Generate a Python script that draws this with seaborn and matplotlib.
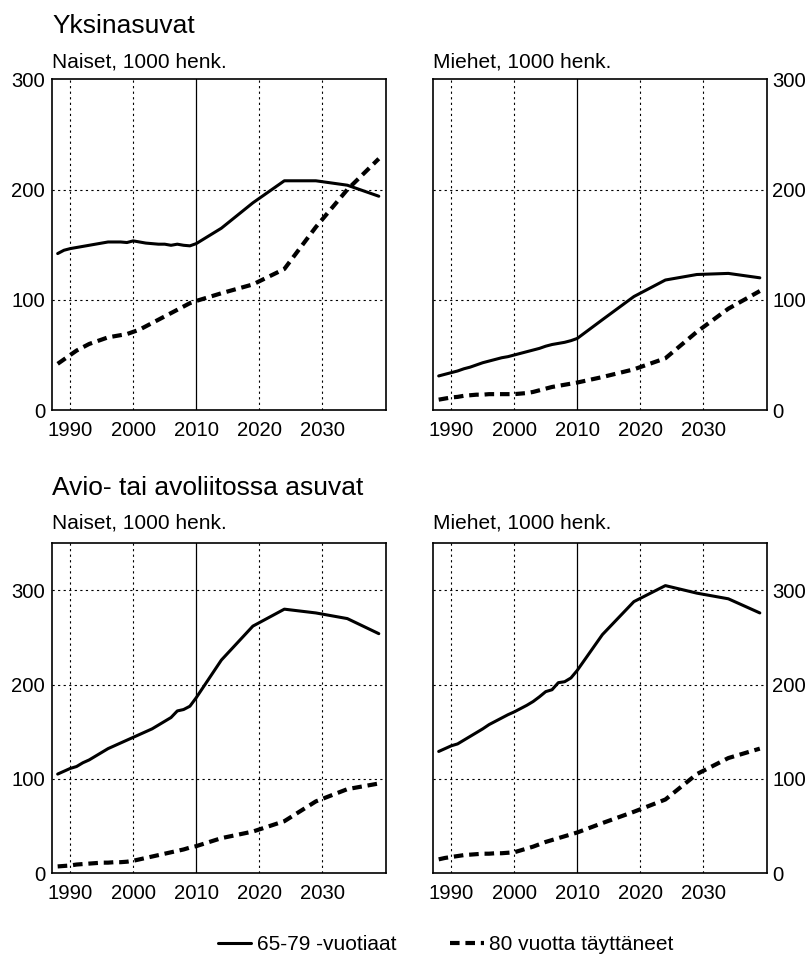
import numpy as np
import pandas as pd
import seaborn as sns
import matplotlib.pyplot as plt
from matplotlib.lines import Line2D
from matplotlib.ticker import MultipleLocator

# vuodet: 1988-2010 vuosittain, sitten ennusteet
vuodet = list(range(1988, 2011)) + [2014, 2019, 2024, 2029, 2034, 2039]

yksin_naiset_65_79 = [142, 145, 146.5, 147.5, 148.5, 149.5, 150.5, 151.5, 152.5, 152.5, 152.5, 152,
                      153.5, 152.5, 151.5, 151, 150.5, 150.5, 149.5, 150.5, 149.5, 149, 151,
                      165, 188, 208, 208, 204, 194]
yksin_naiset_80 = [42, 46, 50, 54, 57, 60, 62, 64, 66, 67, 68, 69,
                   71, 73, 76, 79, 82, 85, 88, 91, 94, 97, 99,
                   106, 114, 128, 166, 200, 228]
yksin_miehet_65_79 = [31, 32.5, 34, 35.5, 37.5, 39, 41, 43, 44.5, 46, 47.5, 48.5,
                      50, 51.5, 53, 54.5, 56, 58, 59.5, 60.5, 61.5, 63, 65,
                      82, 103, 118, 123, 124, 120]
yksin_miehet_80 = [9.5, 10.5, 11.5, 12, 13, 13.5, 14, 14, 14.5, 14.5, 14.5, 14.5,
                   14.5, 15, 15.5, 16.5, 18, 19.5, 21, 22, 23, 24, 25,
                   30, 37, 47, 71, 92, 108]
avio_naiset_65_79 = [105, 108, 111, 113, 117, 120, 124, 128, 132, 135, 138, 141,
                     144, 147, 150, 153, 157, 161, 165, 172, 173.5, 177, 186,
                     226, 262, 280, 276, 270, 254]
avio_naiset_80 = [7, 7.5, 8, 9, 9.5, 10, 10.5, 11, 11, 11.5, 11.5, 12,
                  13, 14.5, 16, 17.5, 19, 20.5, 22, 23.5, 25, 27, 28.5,
                  37, 44, 55, 76, 89, 95]
avio_miehet_65_79 = [129, 132, 135, 137, 141, 145, 149, 153, 157.5, 161, 164.5, 168,
                     171, 174.5, 178, 182, 187, 192.5, 194.5, 202, 203, 207, 215,
                     253, 288, 305, 297, 291, 276]
avio_miehet_80 = [14.5, 16, 17, 18, 19, 19.5, 20, 20.5, 20.5, 21, 21, 21.5,
                  22, 24, 26, 28, 30.5, 33, 35, 37, 39, 41, 43,
                  53, 65, 78, 105, 122, 132]

ryhmat = ["65-79 -vuotiaat", "80 vuotta täyttäneet"]

sns.set_style("white")
plt.rcParams['font.family'] = ['Liberation Sans', 'DejaVu Sans']
plt.rcParams['text.color'] = 'black'
plt.rcParams['xtick.color'] = 'black'
plt.rcParams['ytick.color'] = 'black'

fig = plt.figure(figsize=(8.1, 9.56), dpi=100)

paneelit = [
    ([0.0642, 0.571, 0.412, 0.346], yksin_naiset_65_79, yksin_naiset_80, "Naiset, 1000 henk.", 300, "left", 1.036),
    ([0.5346, 0.571, 0.412, 0.346], yksin_miehet_65_79, yksin_miehet_80, "Miehet, 1000 henk.", 300, "right", 1.036),
    ([0.0642, 0.0868, 0.412, 0.345], avio_naiset_65_79, avio_naiset_80, "Naiset, 1000 henk.", 350, "left", 1.045),
    ([0.5346, 0.0868, 0.412, 0.345], avio_miehet_65_79, avio_miehet_80, "Miehet, 1000 henk.", 350, "right", 1.045),
]

for rect, s1, s2, otsikko, ymax, puoli, oy in paneelit:
    ax = fig.add_axes(rect)
    df = pd.DataFrame({
        "vuosi": vuodet * 2,
        "arvo": s1 + s2,
        "ryhma": [ryhmat[0]] * len(vuodet) + [ryhmat[1]] * len(vuodet),
    })
    for r, lw, ls in [(ryhmat[0], 2.2, "-"), (ryhmat[1], 3.0, (0, (2.3, 1.4)))]:
        sns.lineplot(data=df[df.ryhma == r], x="vuosi", y="arvo", ax=ax,
                     color="black", lw=lw, linestyle=ls, legend=False)
    ax.set_xlim(1987.1, 2040.1)
    ax.set_ylim(0, ymax)
    ax.set_xlabel("")
    ax.set_ylabel("")
    ax.set_xticks([1990, 2000, 2010, 2020, 2030])
    ax.xaxis.set_minor_locator(MultipleLocator(1))
    ax.set_yticks([0, 100, 200, 300])
    for x in [1990, 2000, 2020, 2030]:
        ax.axvline(x, color="black", lw=0.8, ls=(0, (2, 3)), zorder=0)
    for y in [100, 200, 300]:
        if y < ymax:
            ax.axhline(y, color="black", lw=0.8, ls=(0, (2, 3)), zorder=0)
    ax.axvline(2010, color="black", lw=0.9, zorder=0)
    ax.tick_params(axis="x", which="major", direction="in", length=5, width=0.9,
                   labelsize=14.6, pad=8, colors="black")
    ax.tick_params(axis="x", which="minor", direction="in", length=3.5, width=0.9, colors="black")
    ax.tick_params(axis="y", length=0, labelsize=14.6, pad=5, colors="black")
    if puoli == "right":
        ax.yaxis.tick_right()
        ax.tick_params(axis="y", length=0, labelsize=14.6, pad=4)
    for sp in ax.spines.values():
        sp.set_color("black")
        sp.set_linewidth(1.2)
    ax.text(0, oy, otsikko, transform=ax.transAxes, fontsize=15, ha="left", va="baseline")

fig.text(52 / 810, 1 - 33 / 956, "Yksinasuvat", fontsize=19, ha="left", va="baseline")
fig.text(52 / 810, 1 - 495 / 956, "Avio- tai avoliitossa asuvat", fontsize=19, ha="left", va="baseline")

kahvat = [Line2D([], [], color="black", lw=2.2),
          Line2D([], [], color="black", lw=3.0, linestyle=(0, (2.3, 1.4)))]
fig.legend(kahvat, ryhmat, loc="center left", bbox_to_anchor=(218 / 810, 1 - 945 / 956),
           ncol=2, frameon=False, fontsize=15, handlelength=1.6, handletextpad=0.25,
           columnspacing=2.6, borderpad=0, borderaxespad=0)

fig.savefig("out.png", dpi=100)
